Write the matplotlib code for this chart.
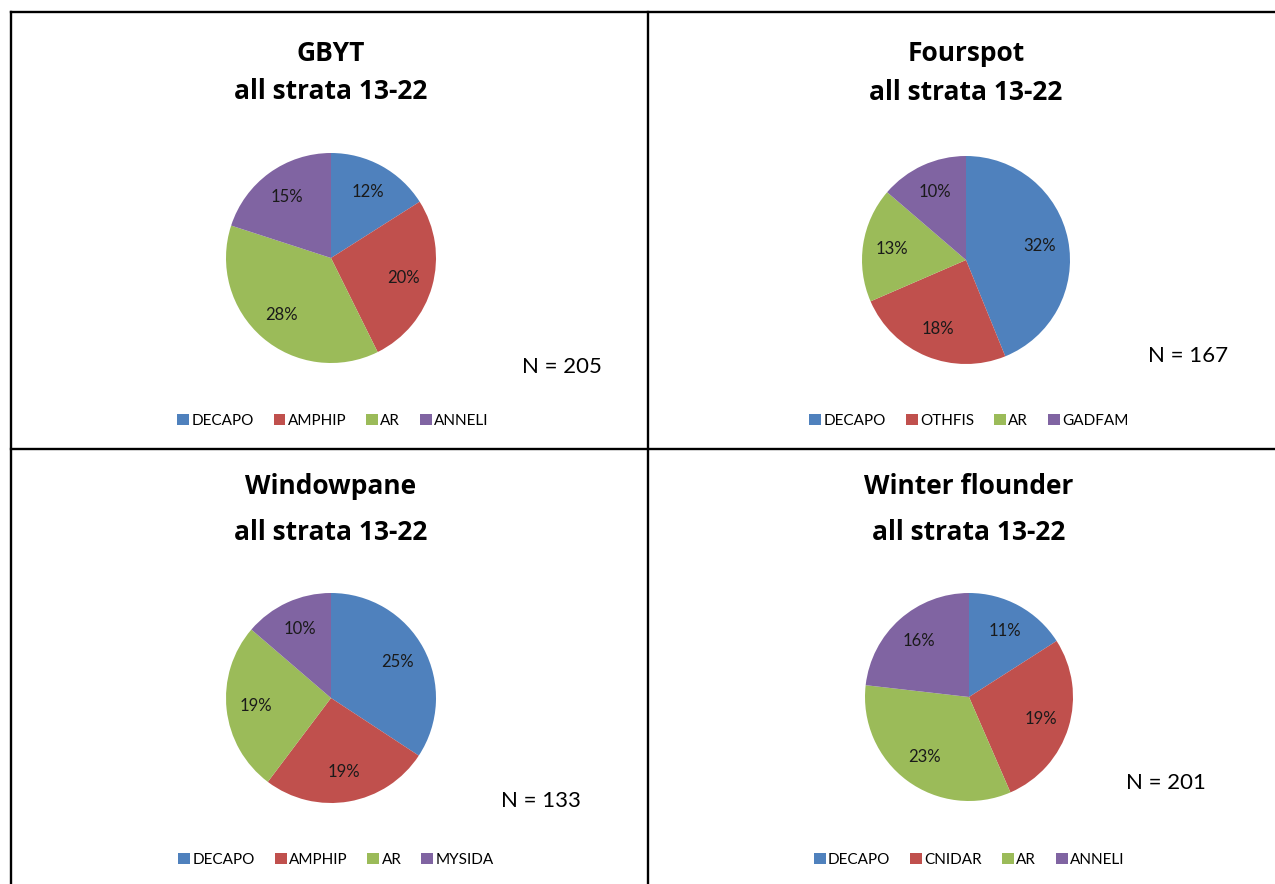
import matplotlib
matplotlib.use("Agg")
import matplotlib.pyplot as plt
from matplotlib.lines import Line2D
from matplotlib.patches import Patch

W, H = 1275, 884

# Diet composition by species (percent of stomach contents)
species = ["GBYT", "Fourspot", "Windowpane", "Winter flounder"]
subtitle = "all strata 13-22"
gbyt_prey = ["DECAPO", "AMPHIP", "AR", "ANNELI"]
gbyt_pct = [12, 20, 28, 15]
fourspot_prey = ["DECAPO", "OTHFIS", "AR", "GADFAM"]
fourspot_pct = [32, 18, 13, 10]
windowpane_prey = ["DECAPO", "AMPHIP", "AR", "MYSIDA"]
windowpane_pct = [25, 19, 19, 10]
winter_prey = ["DECAPO", "CNIDAR", "AR", "ANNELI"]
winter_pct = [11, 19, 23, 16]
sample_sizes = [205, 167, 133, 201]

colors = ["#4F81BD", "#C0504D", "#9BBB59", "#8064A2"]

panels = [
    dict(name=species[0], prey=gbyt_prey, pct=gbyt_pct, n=sample_sizes[0],
         cx=331, t1=61, t2=99, py=258, r=105, nx=562, ny=367, lx=333, ly=421),
    dict(name=species[1], prey=fourspot_prey, pct=fourspot_pct, n=sample_sizes[1],
         cx=966, t1=61, t2=100, py=260, r=104, nx=1188, ny=356, lx=969, ly=421),
    dict(name=species[2], prey=windowpane_prey, pct=windowpane_pct, n=sample_sizes[2],
         cx=331, t1=494, t2=540, py=698, r=105, nx=541, ny=801, lx=336, ly=860),
    dict(name=species[3], prey=winter_prey, pct=winter_pct, n=sample_sizes[3],
         cx=969, t1=494, t2=540, py=697, r=104, nx=1166, ny=783, lx=969, ly=860),
]

fig = plt.figure(figsize=(W / 100, H / 100), dpi=100)
fig.patch.set_facecolor("white")


def fx(x):
    return x / W


def fy(y):
    return 1 - y / H


title_font = dict(family="Open Sans", weight="bold", size=19, color="black")

for p in panels:
    # Title lines
    fig.text(fx(p["cx"]), fy(p["t1"]), p["name"], ha="center", va="baseline", **title_font)
    fig.text(fx(p["cx"]), fy(p["t2"]), subtitle, ha="center", va="baseline", **title_font)

    # Pie
    r = p["r"]
    ax = fig.add_axes([fx(p["cx"] - r), fy(p["py"] + r), 2 * r / W, 2 * r / H])
    wedges, texts = ax.pie(
        p["pct"], colors=colors, startangle=90, counterclock=False,
        labels=[f"{v}%" for v in p["pct"]], labeldistance=0.72,
        wedgeprops=dict(linewidth=0),
        textprops=dict(family="Lato", size=12, color="#1a1a1a", ha="center", va="center"),
    )
    ax.set_xlim(-1, 1)
    ax.set_ylim(-1, 1)
    ax.set_aspect("equal")
    ax.axis("off")

    # Sample size
    fig.text(fx(p["nx"]), fy(p["ny"]), f"N = {p['n']}", ha="center", va="center",
             family="Lato", size=16, color="black")

    # Legend
    handles = [Patch(facecolor=c, edgecolor="none") for c in colors]
    fig.legend(handles, p["prey"], loc="center", bbox_to_anchor=(fx(p["lx"]), fy(p["ly"])),
               ncol=4, frameon=False, handlelength=0.78, handleheight=0.78,
               handletextpad=0.15, columnspacing=1.3,
               prop=dict(family="Lato", size=11))

# Panel borders
lw = 1.7
border = [
    ((11, 1275), (12, 12)),
    ((11, 11), (12, 884)),
    ((648, 648), (12, 884)),
    ((11, 1275), (449, 449)),
]
for xs, ys in border:
    fig.add_artist(Line2D([fx(xs[0]), fx(xs[1])], [fy(ys[0]), fy(ys[1])],
                          color="black", linewidth=lw, transform=fig.transFigure))

fig.savefig("out.png", dpi=100, facecolor="white")
